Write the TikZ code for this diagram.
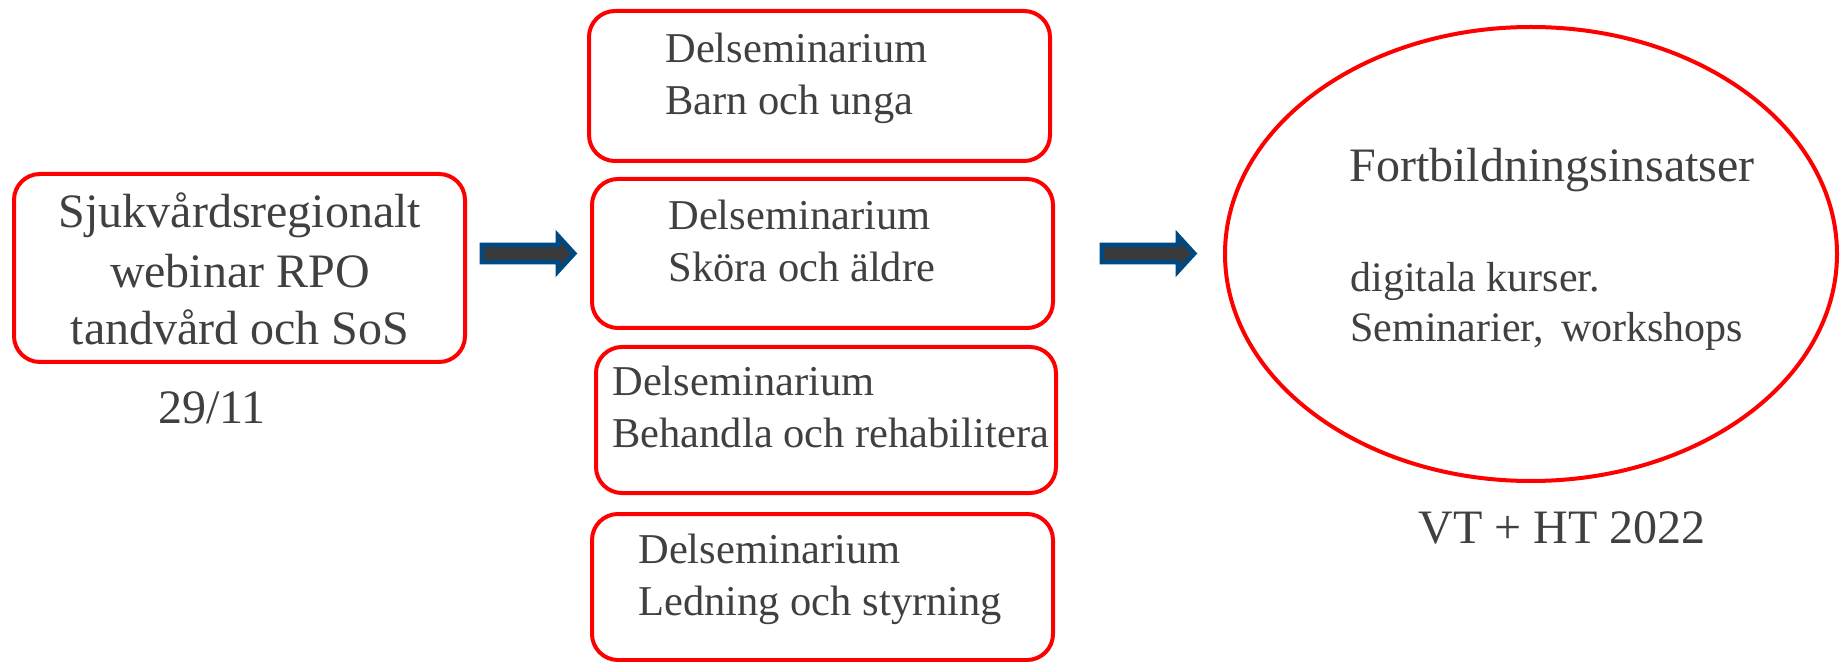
\documentclass[tikz,border=0pt]{standalone}
\usepackage{fontspec}
\setmainfont{Liberation Serif}
\newfontfamily\tnr{Liberation Serif}
\usetikzlibrary{shapes.geometric}
\definecolor{boxred}{RGB}{255,0,0}
\definecolor{txtgray}{RGB}{64,64,64}
\definecolor{arrowblue}{RGB}{0,72,128}
\definecolor{arrowgray}{RGB}{58,58,58}
\tikzset{
  rbox/.style={draw=boxred, line width=2pt, rounded corners=13pt, inner sep=0pt},
  bigtxt/.style={text=txtgray, inner sep=0pt, font=\tnr\fontsize{24pt}{29pt}\selectfont},
  midtxt/.style={text=txtgray, inner sep=0pt, font=\tnr\fontsize{21.25pt}{26pt}\selectfont},
  smalltxt/.style={text=txtgray, inner sep=0pt, font=\tnr\fontsize{21pt}{25pt}\selectfont},
  blockarrow/.style={draw=arrowblue, fill=arrowgray, line width=2.4pt, line join=miter},
  oval/.style={ellipse, draw=boxred, line width=2pt, inner sep=0pt}
}
\begin{document}
\begin{tikzpicture}[x=0.5pt,y=-0.5pt]
\useasboundingbox (0,0) rectangle (1841,662);
% left box
\node[rbox, minimum width=225.5pt, minimum height=94pt] (src) at (239.5,268) {};
\node[bigtxt, anchor=base] (s1) at (240,228) {Sjukvårdsregionalt};
\node[bigtxt, anchor=base] (s2) at (240,288) {webinar RPO};
\node[bigtxt, anchor=base] (s3) at (240,345) {tandvård och SoS};
\node[bigtxt, anchor=base] (date) at (212,423) {29/11};
% middle boxes
\node[rbox, minimum width=230.5pt, minimum height=75pt] (b1) at (819.5,86) {};
\node[midtxt, anchor=base west] (b1a) at (665,63) {Delseminarium};
\node[midtxt, anchor=base west] (b1b) at (665,115) {Barn och unga};
\node[rbox, minimum width=230.5pt, minimum height=74.5pt] (b2) at (822.5,253.5) {};
\node[midtxt, anchor=base west] (b2a) at (668,230) {Delseminarium};
\node[midtxt, anchor=base west] (b2b) at (668,282) {Sköra och äldre};
\node[rbox, minimum width=230pt, minimum height=73pt] (b3) at (826,420) {};
\node[midtxt, anchor=base west] (b3a) at (612,395) {Delseminarium};
\node[midtxt, anchor=base west] (b3b) at (612,447) {Behandla och rehabilitera};
\node[rbox, minimum width=230.5pt, minimum height=73pt] (b4) at (822.5,587) {};
\node[midtxt, anchor=base west] (b4a) at (638,563) {Delseminarium};
\node[midtxt, anchor=base west] (b4b) at (638,615) {Ledning och styrning};
% ellipse
\node[oval, minimum width=306pt, minimum height=227pt] (goal) at (1531,254) {};
\node[bigtxt, anchor=base west] (g1) at (1349,182) {Fortbildningsinsatser};
\node[smalltxt, anchor=base west] (g2) at (1350,292) {digitala kurser.};
\node[smalltxt, anchor=base west] (g3) at (1350,342) {Seminarier,\, workshops};
\node[bigtxt, anchor=base west] (when) at (1418,543) {VT + HT 2022};
% block arrows
\coordinate (a1) at (482,253.5);
\coordinate (a2) at (1102,253.5);
\foreach \c in {a1,a2}{
  \draw[blockarrow] ([yshift=4.25pt]\c) -- ++(76,0) -- ++(0,-9) -- ++(16,17.5) -- ++(-16,17.5) -- ++(0,-9) -- ++(-76,0) -- cycle;
}
\end{tikzpicture}
\end{document}
